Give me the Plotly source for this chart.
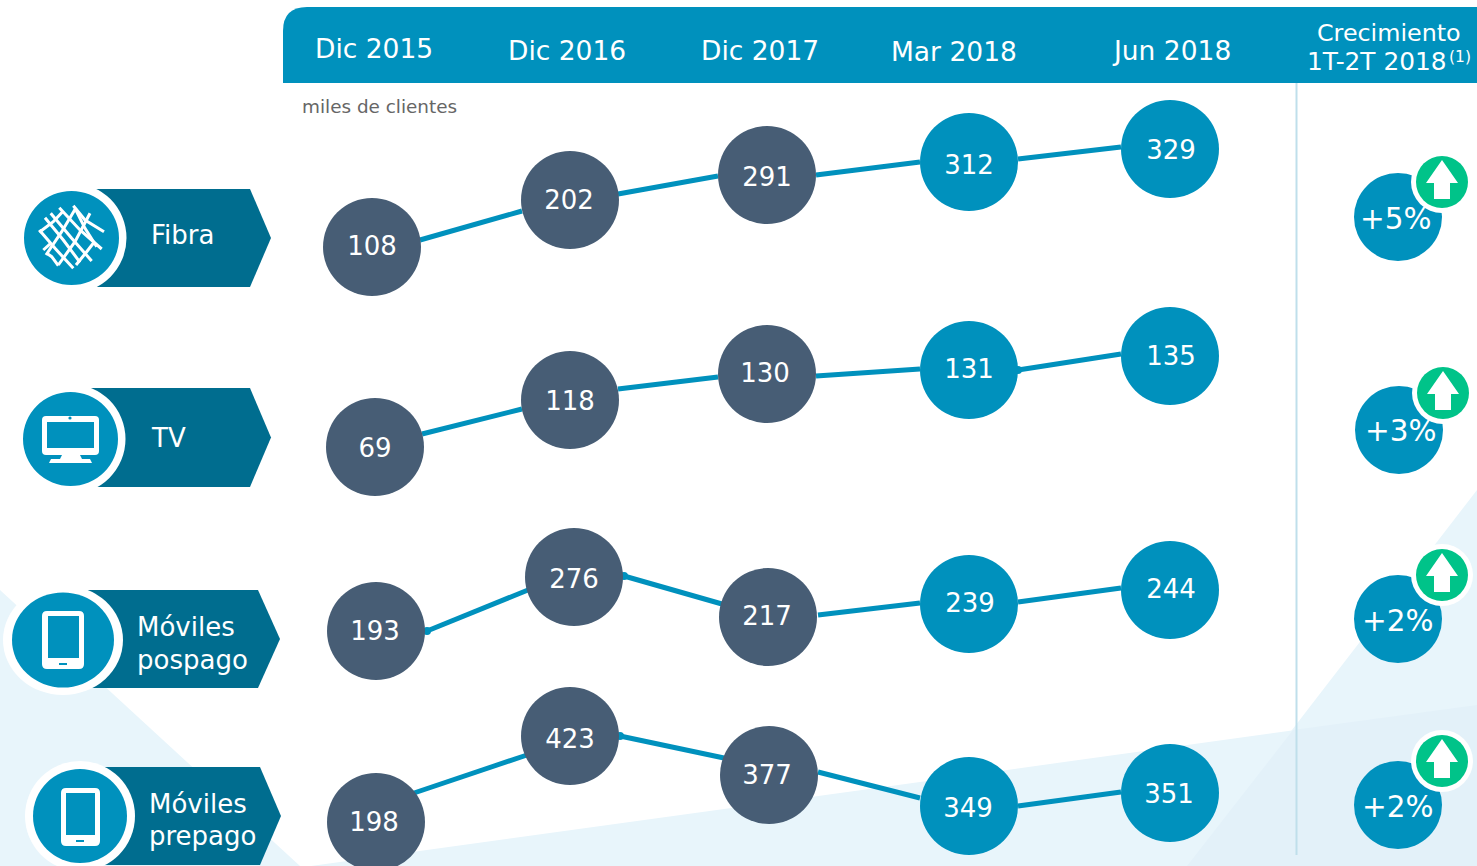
import plotly.graph_objects as go

# ---------- data ----------
periods = ["Dic 2015", "Dic 2016", "Dic 2017", "Mar 2018", "Jun 2018"]
series_names = [["Fibra"], ["TV"], ["Móviles", "pospago"], ["Móviles", "prepago"]]
fibra = [108, 202, 291, 312, 329]
tv = [69, 118, 130, 131, 135]
pospago = [193, 276, 217, 239, 244]
prepago = [198, 423, 377, 349, 351]
growth = ["+5%", "+3%", "+2%", "+2%"]
unit_label = "miles de clientes"
growth_title = ["Crecimiento", "1T-2T 2018"]
growth_note = "(1)"

# ---------- layout of the schematic (pixels of the slide) ----------
FONT = "DejaVu Sans"
BLUE = "#0091bd"
DARK = "#475d75"
PILL = "#006d8f"
GREEN = "#00c389"
BG = "#e8f5fb"
BG2 = "#e3f1f9"

node_x = [
    [372, 570, 767, 969, 1170],
    [375, 570, 767, 969, 1170],
    [376, 574, 768, 969, 1170],
    [376, 570, 769, 969, 1170],
]
node_y = [
    [247, 200, 175, 162, 149],
    [447, 400, 374, 370, 356],
    [631, 577, 617, 604, 590],
    [822, 736, 775, 806, 793],
]
label_x = [
    [372, 569, 767, 969, 1171],
    [375, 570, 765, 969, 1171],
    [375, 574, 767, 970, 1171],
    [374, 570, 767, 968, 1169],
]
label_y = [
    [245, 199, 176, 164, 149],
    [447, 400, 372, 368, 355],
    [630, 578, 615, 602, 588],
    [821, 738, 774, 807, 793],
]
connectors = [
    [(420, 240, 522, 211), (618, 194, 718, 176), (816, 175, 920, 162), (1018, 159, 1121, 147)],
    [(422, 434, 522, 409), (618, 389, 718, 377), (816, 376, 920, 369), (1018, 370, 1121, 354)],
    [(427, 631, 528, 590), (624, 576, 722, 604), (818, 615, 920, 603), (1018, 602, 1121, 588)],
    [(414, 793, 527, 755), (620, 736, 724, 758), (818, 772, 920, 798), (1018, 806, 1121, 792)],
]
joints = [(427, 631), (624, 576), (620, 736), (1018, 370)]
period_pos = [(374, 48), (567, 50), (760, 50), (954, 51), (1171, 50)]
growth_xy = [(1398, 217), (1399, 430), (1398, 619), (1398, 805)]
growth_txt = [(1396, 219), (1401, 431), (1398, 621), (1398, 807)]
badge_xy = [(1442, 182), (1443, 393), (1442, 575), (1442, 761)]
# pill: top, bottom, shoulder x, tip x, start x; icon: cx, cy, rx, ry, ring rx, ring ry
pills = [
    (189, 287, 250, 271, 80, 71.5, 238, 47.5, 47, 55, 55),
    (388, 487, 250, 271, 80, 70.5, 439, 47.5, 47, 55, 55),
    (590, 688, 258, 280, 70, 63, 640, 51, 47.5, 60, 55),
    (767, 865, 260, 281, 90, 80, 816, 47, 47, 55, 55),
]
label_pos = [[(149, 235)], [(149, 438)], [(135, 627), (135, 660)], [(147, 804), (147, 836)]]


def poly(pts):
    return "M" + " L".join(f"{x},{y}" for x, y in pts) + " Z"


def rrect(x0, y0, x1, y1, r):
    return (f"M{x0+r},{y0} L{x1-r},{y0} Q{x1},{y0} {x1},{y0+r} L{x1},{y1-r} Q{x1},{y1} {x1-r},{y1} "
            f"L{x0+r},{y1} Q{x0},{y1} {x0},{y1-r} L{x0},{y0+r} Q{x0},{y0} {x0+r},{y0} Z")


shapes = []


def add_path(path, fill=None, layer="below", line_color=None, line_width=0):
    shapes.append(dict(type="path", path=path, xref="x", yref="y", layer=layer,
                       fillcolor=fill if fill else "rgba(0,0,0,0)",
                       line=dict(color=line_color or "rgba(0,0,0,0)", width=line_width)))


def add_ellipse(cx, cy, rx, ry, fill, layer="below"):
    shapes.append(dict(type="circle", xref="x", yref="y", layer=layer, x0=cx - rx, x1=cx + rx,
                       y0=cy - ry, y1=cy + ry, fillcolor=fill, line=dict(width=0)))


# background wedges
add_path(poly([(0, 590), (300, 866), (0, 866)]), BG)
add_path(poly([(1477, 490), (1187, 866), (1477, 866)]), BG)
add_path(poly([(311, 866), (1477, 705), (1477, 866)]), BG)
add_path(poly([(1293, 730), (1477, 705), (1477, 866), (1187, 866)]), BG2)

# header band
add_path("M283,83 L283,31 Q283,7 307,7 L1477,7 L1477,83 Z", BLUE)
# divider
shapes.append(dict(type="line", xref="x", yref="y", layer="below", x0=1296.5, x1=1296.5, y0=83, y1=855,
                   line=dict(color="#bfdfeb", width=2)))

# category pills and icon discs
for top, bot, sh, tip, start, cx, cy, rx, ry, rrx, rry in pills:
    add_path(poly([(start, top), (sh, top), (tip, (top + bot) / 2), (sh, bot), (start, bot)]), PILL)
    add_ellipse(cx, cy, rrx, rry, "#ffffff")
    add_ellipse(cx, cy, rx, ry, BLUE)

# fibre icon: scribbled strands, sketched in crop coordinates
for stroke in [
    [(28, 135), (75, 190), (130, 250)],
    [(45, 98), (100, 165), (150, 232)],
    [(62, 85), (125, 160), (185, 228)],
    [(88, 68), (150, 135), (215, 192)],
    [(130, 62), (165, 105), (222, 140)],
    [(28, 142), (70, 110), (100, 78)],
    [(48, 210), (95, 140), (138, 68)],
    [(85, 240), (135, 170), (180, 85)],
    [(135, 70), (165, 130), (200, 185)],
    [(138, 240), (170, 200), (190, 175)],
    [(50, 205), (65, 215), (85, 242)],
    [(62, 175), (40, 195)],
]:
    pts = [(30 + x / 3, 185 + y / 3) for x, y in stroke]
    add_path("M" + " L".join(f"{x:.1f},{y:.1f}" for x, y in pts), None, line_color="#ffffff", line_width=3)

# TV icon
add_path(rrect(42, 416, 99, 455, 4), "#ffffff")
add_path(poly([(47, 422), (94, 422), (94, 448), (47, 448)]), BLUE)
add_ellipse(70, 418, 1.6, 1.6, BLUE)
add_path(poly([(62, 455), (80, 455), (82, 459), (90, 459), (92, 463), (49, 463), (51, 459), (60, 459)]), "#ffffff")

# tablet icons
for x0, x1, y0, y1, sx0, sx1, sy0, sy1, bx0, bx1, by0, by1 in [
    (42, 84, 611, 669, 48, 79, 616, 658, 59, 67, 663, 665),
    (61, 100, 788, 846, 66, 95, 793, 835, 76, 84, 840, 842),
]:
    add_path(rrect(x0, y0, x1, y1, 5), "#ffffff")
    add_path(poly([(sx0, sy0), (sx1, sy0), (sx1, sy1), (sx0, sy1)]), BLUE)
    add_path(poly([(bx0, by0), (bx1, by0), (bx1, by1), (bx0, by1)]), BLUE)

# arrows on the green badges
for bx, by in badge_xy:
    add_path(poly([(bx, by - 22), (bx + 16, by + 1), (bx + 8, by + 1), (bx + 8, by + 17),
                   (bx - 8, by + 17), (bx - 8, by + 1), (bx - 16, by + 1)]), "#ffffff", layer="above")

fig = go.Figure()

# connectors
for row in connectors:
    xs, ys = [], []
    for x0, y0, x1, y1 in row:
        xs += [x0, x1, None]
        ys += [y0, y1, None]
    fig.add_trace(go.Scatter(x=xs, y=ys, mode="lines", line=dict(color=BLUE, width=5), hoverinfo="skip"))
fig.add_trace(go.Scatter(x=[p[0] for p in joints], y=[p[1] for p in joints], mode="markers",
                         marker=dict(color=BLUE, size=8), hoverinfo="skip"))

# value nodes and their labels
for values, xs, ys, lx, ly in zip([fibra, tv, pospago, prepago], node_x, node_y, label_x, label_y):
    fig.add_trace(go.Scatter(
        x=xs, y=ys, mode="markers",
        marker=dict(size=98, color=[DARK, DARK, DARK, BLUE, BLUE], line=dict(width=0)),
        text=periods, customdata=values, hovertemplate="%{text}: %{customdata}<extra></extra>"))
    fig.add_trace(go.Scatter(
        x=lx, y=[v + 3 for v in ly], mode="text", text=[str(v) for v in values],
        textposition="middle center", textfont=dict(family=FONT, size=26, color="#ffffff"), hoverinfo="skip"))

# growth discs
fig.add_trace(go.Scatter(x=[p[0] for p in growth_xy], y=[p[1] for p in growth_xy], mode="markers",
                         marker=dict(size=88, color=BLUE, line=dict(width=0)), hoverinfo="skip"))
fig.add_trace(go.Scatter(x=[p[0] for p in badge_xy], y=[p[1] for p in badge_xy], mode="markers",
                         marker=dict(size=62, color="#ffffff", line=dict(width=0)), hoverinfo="skip"))
fig.add_trace(go.Scatter(x=[p[0] for p in badge_xy], y=[p[1] for p in badge_xy], mode="markers",
                         marker=dict(size=52, color=GREEN, line=dict(width=0)), hoverinfo="skip"))

ann = []


def note(x, y, text, size, color="#ffffff", anchor="center"):
    ann.append(dict(x=x, y=y, xref="x", yref="y", text=text, showarrow=False, xanchor=anchor, yanchor="middle",
                    align="left" if anchor == "left" else "center",
                    font=dict(family=FONT, size=size, color=color)))


for p, (x, y) in zip(periods, period_pos):
    note(x, y, p, 26.5)
note(1389, 33, growth_title[0], 23.8)
note(1377, 61, growth_title[1], 24.8)
note(1459.5, 57, growth_note, 15.5)
note(300, 106, unit_label, 18.4, "#666666", "left")
for g, (x, y) in zip(growth, growth_txt):
    note(x, y, g, 29.5)
for lines, positions in zip(series_names, label_pos):
    for line, (x, y) in zip(lines, positions):
        note(x, y, line, 26, anchor="left")

fig.update_layout(
    width=1477, height=866, margin=dict(l=0, r=0, t=0, b=0), showlegend=False,
    paper_bgcolor="#ffffff", plot_bgcolor="rgba(0,0,0,0)", shapes=shapes, annotations=ann,
    xaxis=dict(range=[0, 1477], visible=False, fixedrange=True),
    yaxis=dict(range=[866, 0], visible=False, fixedrange=True),
)
fig.write_html("out.html", config={"displayModeBar": False},
               post_script="document.body.style.margin='0';document.body.style.overflow='hidden';")
